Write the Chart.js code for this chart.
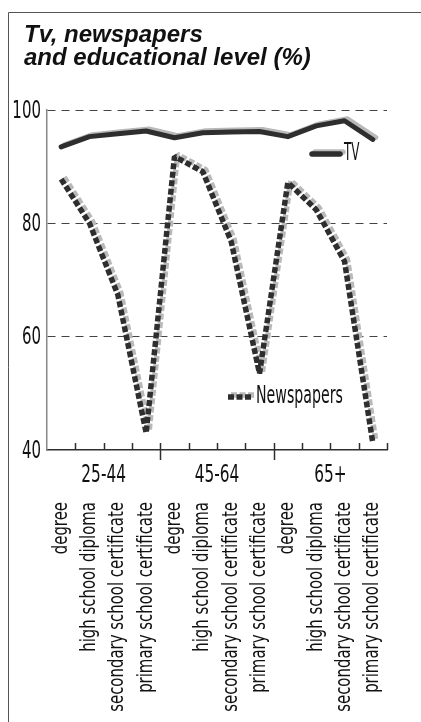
<!DOCTYPE html>
<html>
<head>
<meta charset="utf-8">
<title>Tv, newspapers and educational level (%)</title>
<script src="https://cdn.jsdelivr.net/npm/chart.js@4/dist/chart.umd.min.js"></script>
<style>
  html, body { margin: 0; padding: 0; background: #fff; }
  #wrap { width: 421px; height: 722px; }
</style>
</head>
<body>
<div id="wrap"><canvas id="chart" width="421" height="722"></canvas></div>
<script>
// Age groups and educational levels (each group repeats the four levels)
const ageGroups = ['25-44', '45-64', '65+'];
const levels = ['degree', 'high school diploma', 'secondary school certificate', 'primary school certificate'];
const categories = ageGroups.flatMap(() => levels);

// Share of people (%) following each medium
const tv = [93.5, 95.3, 95.8, 96.3, 95.1, 96.0, 96.1, 96.2, 95.3, 97.2, 98.1, 94.8];
const newspapers = [87.8, 80.0, 67.4, 43.0, 91.8, 89.1, 76.8, 53.5, 87.2, 82.4, 73.3, 41.2];

const yTicks = [40, 60, 80, 100];
const titleLines = ['Tv, newspapers', 'and educational level (%)'];

const INK = '#111';
const LINE = '#2e2e2e';
const SHADE = '#b9b9b9';
const PAPER_DASH = [6, 2.5];
const TITLE_FACE = '"Liberation Sans", Arial, sans-serif';
const LABEL_FACE = '"DejaVu Sans", sans-serif';

// Draw text squeezed horizontally to get a condensed face
function squeezed(ctx, text, x, y, o) {
  ctx.save();
  ctx.translate(x, y);
  if (o.rotate) ctx.rotate(o.rotate);
  ctx.scale(o.sx, 1);
  ctx.font = o.size + 'px ' + LABEL_FACE;
  ctx.textAlign = o.align || 'left';
  ctx.textBaseline = 'middle';
  ctx.fillStyle = INK;
  ctx.fillText(text, 0, 0);
  ctx.restore();
}

function setShade(ctx) {
  ctx.shadowColor = SHADE;
  ctx.shadowOffsetX = 3;
  ctx.shadowOffsetY = -2;
  ctx.shadowBlur = 0;
}

// Offset light shadow under both series lines
const shadePlugin = {
  id: 'shade',
  beforeDatasetDraw(chart) {
    chart.ctx.save();
    setShade(chart.ctx);
  },
  afterDatasetDraw(chart) {
    chart.ctx.restore();
  }
};

// Frame, title, axis labels, x tick marks and inline legend
const decorPlugin = {
  id: 'decor',
  beforeDraw(chart) {
    const ctx = chart.ctx;
    ctx.save();
    ctx.fillStyle = '#fff';
    ctx.fillRect(0, 0, chart.width, chart.height);
    ctx.restore();
  },
  afterDraw(chart) {
    const ctx = chart.ctx;
    const xs = chart.scales.x;
    const ys = chart.scales.y;
    const area = chart.chartArea;

    // frame
    ctx.save();
    ctx.strokeStyle = '#555';
    ctx.lineWidth = 1;
    ctx.beginPath();
    ctx.moveTo(8.5, chart.height);
    ctx.lineTo(8.5, 12.5);
    ctx.lineTo(chart.width, 12.5);
    ctx.stroke();
    ctx.restore();

    // title
    ctx.save();
    ctx.fillStyle = INK;
    ctx.font = 'italic bold 24px ' + TITLE_FACE;
    ctx.textBaseline = 'alphabetic';
    ctx.textAlign = 'left';
    titleLines.forEach((t, i) => ctx.fillText(t, 24, 42 + i * 23));
    ctx.restore();

    // y tick labels
    yTicks.forEach(v => {
      squeezed(ctx, String(v), area.left - 6, ys.getPixelForValue(v) + 1, { size: 25, sx: 0.6, align: 'right' });
    });

    // x tick marks: short ones inside, long ones between age groups
    ctx.save();
    ctx.strokeStyle = LINE;
    ctx.lineWidth = 1.5;
    for (let k = 1; k <= categories.length; k++) {
      const x = Math.round(xs.getPixelForValue(k - 0.5)) + 0.5;
      const groupEdge = k % levels.length === 0 && k < categories.length;
      ctx.beginPath();
      ctx.moveTo(x, area.bottom - 7);
      ctx.lineTo(x, area.bottom + (groupEdge ? 10 : 0));
      ctx.stroke();
    }
    ctx.restore();

    // age group labels
    ageGroups.forEach((g, gi) => {
      const a = xs.getPixelForValue(gi * levels.length);
      const b = xs.getPixelForValue(gi * levels.length + levels.length - 1);
      squeezed(ctx, g, (a + b) / 2, area.bottom + 26, { size: 24, sx: 0.64, align: 'center' });
    });

    // educational level labels, rotated
    categories.forEach((c, i) => {
      squeezed(ctx, c, xs.getPixelForValue(i), area.bottom + 52, { size: 21, sx: 0.71, align: 'right', rotate: -Math.PI / 2 });
    });

    // inline legend
    const items = [
      { label: 'TV', x0: area.right - 75, x1: area.right - 47, y: area.top + 44, dash: [], cap: 'round', sx: 0.5 },
      { label: 'Newspapers', x0: area.left + 181, x1: area.left + 205, y: area.top + 287, dash: PAPER_DASH, cap: 'butt', sx: 0.59 }
    ];
    items.forEach(it => {
      ctx.save();
      setShade(ctx);
      ctx.strokeStyle = LINE;
      ctx.lineWidth = 5.5;
      ctx.lineCap = it.cap;
      ctx.setLineDash(it.dash);
      ctx.beginPath();
      ctx.moveTo(it.x0, it.y);
      ctx.lineTo(it.x1, it.y);
      ctx.stroke();
      ctx.restore();
      squeezed(ctx, it.label, it.x1 + 4, it.y, { size: 24, sx: it.sx, align: 'left' });
    });
  }
};

new Chart(document.getElementById('chart'), {
  type: 'line',
  data: {
    labels: categories,
    datasets: [
      {
        label: 'TV',
        data: tv,
        borderColor: LINE,
        borderWidth: 5,
        borderCapStyle: 'round',
        borderJoinStyle: 'round',
        pointRadius: 0,
        tension: 0,
        fill: false
      },
      {
        label: 'Newspapers',
        data: newspapers,
        borderColor: LINE,
        borderWidth: 5.5,
        borderDash: PAPER_DASH,
        borderCapStyle: 'butt',
        borderJoinStyle: 'bevel',
        pointRadius: 0,
        tension: 0,
        fill: false
      }
    ]
  },
  options: {
    responsive: false,
    animation: false,
    devicePixelRatio: 1,
    layout: { padding: { top: 110, right: 34, left: 0, bottom: 0 } },
    plugins: {
      legend: { display: false },
      tooltip: { enabled: false },
      title: { display: false }
    },
    scales: {
      x: {
        type: 'category',
        offset: true,
        grid: { display: false, drawTicks: false },
        border: { display: true, color: LINE, width: 1.5 },
        ticks: { display: false },
        afterFit(s) { s.height = 272; }
      },
      y: {
        min: 40,
        max: 100,
        afterBuildTicks(s) { s.ticks = yTicks.map(v => ({ value: v })); },
        ticks: { display: false },
        grid: {
          drawTicks: false,
          lineWidth: 1,
          color: c => (c.tick && c.tick.value === 40) ? 'rgba(0,0,0,0)' : '#444'
        },
        border: { display: true, color: '#888', width: 1.5, dash: [8, 6] },
        afterFit(s) { s.width = 47; }
      }
    }
  },
  plugins: [shadePlugin, decorPlugin]
});
</script>
</body>
</html>
